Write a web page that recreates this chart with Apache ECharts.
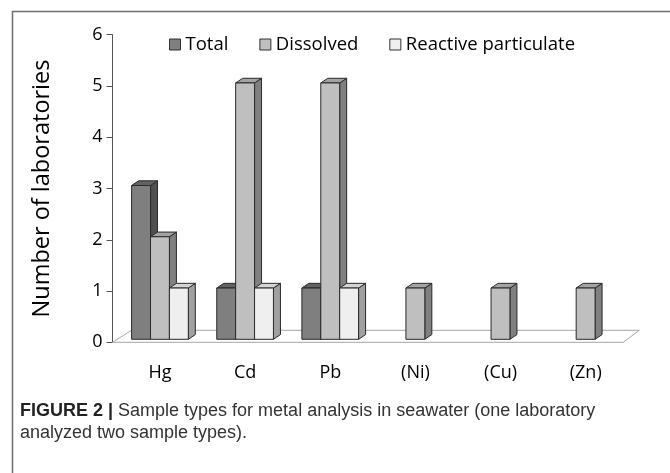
<!DOCTYPE html>
<html>
<head>
<meta charset="utf-8">
<script src="https://cdn.jsdelivr.net/npm/echarts@6/dist/echarts.min.js"></script>
<style>
  html, body { margin: 0; padding: 0; background: #fff; }
  #main { width: 670px; height: 473px; }
</style>
</head>
<body>
<div id="main"></div>
<script>
// data
var categories = ['Hg', 'Cd', 'Pb', '(Ni)', '(Cu)', '(Zn)'];
var totalData = [3, 1, 1, 0, 0, 0];
var dissolvedData = [2, 5, 5, 1, 1, 1];
var reactiveData = [1, 1, 1, 0, 0, 0];
var yTicks = [0, 1, 2, 3, 4, 5, 6];

var FONT = 'Open Sans';
// face colours: front, side, top
var faces = [
  ['#7f7f7f', '#4f4f4f', '#626262'],
  ['#bfbfbf', '#808080', '#a3a3a3'],
  ['#efefef', '#a0a0a0', '#d4d4d4']
];

// pseudo 3D bar, one per value
function barRenderer(k) {
  return function (params, api) {
    var v = api.value(1);
    if (!v) return;
    var base = api.coord([api.value(0), 0]);
    var top = api.coord([api.value(0), v]);
    var band = api.size([1, 0])[0];
    var w = band * 0.222;
    var dx = 4.9, dy = -3, d = 7, dh = 4.7;
    var x0 = base[0] - 1.5 * w + k * w + dx;
    var yt = top[1] + dy, yb = base[1] + dy;
    var c = faces[k];
    var edge = { stroke: '#2a2a2a', lineWidth: 1 };
    return {
      type: 'group',
      children: [
        { type: 'polygon', shape: { points: [[x0 + w, yt], [x0 + w + d, yt - dh], [x0 + w + d, yb - dh], [x0 + w, yb]] },
          style: Object.assign({ fill: c[1] }, edge) },
        { type: 'polygon', shape: { points: [[x0, yt], [x0 + d, yt - dh], [x0 + w + d, yt - dh], [x0 + w, yt]] },
          style: Object.assign({ fill: c[2] }, edge) },
        { type: 'rect', shape: { x: x0, y: yt, width: w, height: yb - yt },
          style: Object.assign({ fill: c[0] }, edge) }
      ]
    };
  };
}

function toItems(arr) {
  return arr.map(function (v, i) { return [i, v]; });
}

var chart = echarts.init(document.getElementById('main'));
chart.setOption({
  animation: false,
  backgroundColor: '#fff',
  textStyle: { fontFamily: FONT },
  grid: { left: 112.5, right: 46.7, top: 34.7, bottom: 130.7 },
  legend: {
    left: 164,
    top: 30,
    itemWidth: 11,
    itemHeight: 11,
    itemGap: 31,
    icon: 'rect',
    textStyle: { fontSize: 18.5, color: '#000', fontFamily: FONT },
    data: [
      { name: 'Total', itemStyle: { color: faces[0][0], borderColor: '#333', borderWidth: 1 } },
      { name: 'Dissolved', itemStyle: { color: faces[1][0], borderColor: '#333', borderWidth: 1 } },
      { name: 'Reactive particulate', itemStyle: { color: faces[2][0], borderColor: '#333', borderWidth: 1 } }
    ]
  },
  xAxis: {
    type: 'category',
    data: categories,
    axisLine: { show: false },
    axisTick: { show: false },
    axisLabel: { fontSize: 18, color: '#000', margin: 22, padding: [0, 0, 0, 10] }
  },
  yAxis: {
    type: 'value',
    min: yTicks[0],
    max: yTicks[yTicks.length - 1],
    interval: 1,
    name: 'Number of laboratories',
    nameLocation: 'middle',
    nameRotate: 90,
    nameGap: 58,
    nameTextStyle: { fontSize: 23.5, color: '#000', fontFamily: FONT },
    axisLine: { show: true, lineStyle: { color: '#555', width: 1 } },
    axisTick: { show: true, length: 6, lineStyle: { color: '#555' } },
    axisLabel: { fontSize: 18, color: '#000', margin: 10 },
    splitLine: { show: false }
  },
  series: [
    {
      type: 'custom',
      name: 'floor',
      silent: true,
      z: 1,
      data: [[0, 0]],
      renderItem: function (params, api) {
        var cs = params.coordSys;
        var yb = api.coord([0, 0])[1];
        var xl = cs.x, xr = cs.x + cs.width;
        return {
          type: 'polygon',
          shape: { points: [[xl, yb], [xl + 19, yb - 12], [xr + 16, yb - 12], [xr, yb]] },
          style: { fill: '#fff', stroke: '#a6a6a6', lineWidth: 1 }
        };
      }
    },
    { type: 'custom', name: 'Total', z: 2, data: toItems(totalData), renderItem: barRenderer(0) },
    { type: 'custom', name: 'Dissolved', z: 2, data: toItems(dissolvedData), renderItem: barRenderer(1) },
    { type: 'custom', name: 'Reactive particulate', z: 2, data: toItems(reactiveData), renderItem: barRenderer(2) }
  ],
  graphic: [
    { type: 'rect', left: 10, top: 9, shape: { width: 720, height: 520 }, silent: true,
      style: { fill: 'none', stroke: '#6e6e6e', lineWidth: 1.5 } },
    { type: 'text', left: 20, top: 400, silent: true,
      style: {
        text: '{b|FIGURE 2 |} Sample types for metal analysis in seawater (one laboratory\nanalyzed two sample types).',
        fontFamily: 'Liberation Sans',
        fontSize: 18,
        lineHeight: 22,
        fill: '#333',
        rich: { b: { fontWeight: 'bold', fontSize: 18, fontFamily: 'Liberation Sans', fill: '#222' } }
      } }
  ]
});
</script>
</body>
</html>
